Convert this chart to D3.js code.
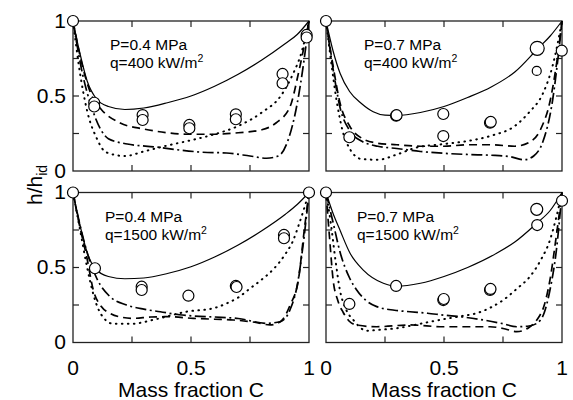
<!DOCTYPE html>
<html><head><meta charset="utf-8">
<script src="https://cdn.jsdelivr.net/npm/d3@7/dist/d3.min.js"></script>
<style>
html,body{margin:0;padding:0;background:#fff;}
svg{display:block;font-family:"Liberation Sans",Arial,Helvetica,sans-serif;}
</style></head>
<body>
<svg id="chart" width="573" height="400"></svg>
<script>
// ---- data ----
const xTicks = [0, 0.25, 0.5, 0.75, 1];
const yTicks = [0, 0.25, 0.5, 0.75, 1];
const xTickLabels = ["0", "0.5", "1"];
const yTickLabels = ["0", "0.5", "1"];
const panelP = ["0.4", "0.7", "0.4", "0.7"];
const panelQ = ["400", "400", "1500", "1500"];

// Panel 1: P=0.4 MPa, q=400
const p1Solid = [[0,1],[0.03,0.78],[0.06,0.6],[0.1,0.48],[0.15,0.43],[0.22,0.41],[0.3,0.42],[0.4,0.455],[0.5,0.5],[0.6,0.565],[0.7,0.645],[0.8,0.74],[0.9,0.85],[0.95,0.91],[1,1]];
const p1Dashed = [[0,1],[0.04,0.7],[0.08,0.5],[0.12,0.41],[0.2,0.32],[0.3,0.28],[0.4,0.255],[0.5,0.245],[0.6,0.245],[0.7,0.255],[0.8,0.275],[0.86,0.32],[0.92,0.43],[0.955,0.65],[1,1]];
const p1Dotted = [[0,1],[0.03,0.65],[0.06,0.4],[0.1,0.22],[0.14,0.125],[0.22,0.1],[0.3,0.13],[0.4,0.17],[0.5,0.205],[0.6,0.245],[0.7,0.3],[0.8,0.39],[0.88,0.5],[0.93,0.64],[0.97,0.8],[1,1]];
const p1DashDot = [[0,1],[0.04,0.65],[0.08,0.42],[0.12,0.27],[0.15,0.215],[0.23,0.18],[0.35,0.16],[0.45,0.14],[0.55,0.125],[0.65,0.12],[0.75,0.1],[0.82,0.085],[0.87,0.1],[0.91,0.2],[0.95,0.45],[0.98,0.75],[1,1]];
const p1Circles = [[0,1,5.5],[0.09,0.455,5.5],[0.09,0.43,5.5],[0.295,0.373,5.5],[0.295,0.34,5.5],[0.493,0.307,5.5],[0.493,0.285,5.5],[0.69,0.378,5.5],[0.69,0.345,5.5],[0.888,0.647,5.5],[0.888,0.585,5.5],[0.99,0.907,5.5],[0.99,0.89,5.5]];

// Panel 2: P=0.7 MPa, q=400
const p2Solid = [[0,1],[0.03,0.8],[0.06,0.65],[0.1,0.53],[0.15,0.45],[0.2,0.395],[0.25,0.372],[0.3,0.37],[0.4,0.39],[0.5,0.43],[0.6,0.49],[0.7,0.56],[0.8,0.66],[0.9,0.82],[0.95,0.9],[1,1]];
const p2Dashed = [[0,1],[0.03,0.7],[0.06,0.45],[0.1,0.3],[0.15,0.22],[0.22,0.185],[0.3,0.175],[0.4,0.165],[0.5,0.165],[0.6,0.175],[0.7,0.175],[0.8,0.165],[0.86,0.19],[0.91,0.28],[0.95,0.47],[0.98,0.75],[1,1]];
const p2Dotted = [[0,1],[0.02,0.75],[0.045,0.47],[0.07,0.27],[0.1,0.15],[0.15,0.08],[0.22,0.075],[0.3,0.11],[0.38,0.155],[0.5,0.18],[0.6,0.2],[0.7,0.235],[0.8,0.3],[0.86,0.39],[0.92,0.52],[0.96,0.7],[1,1]];
const p2DashDot = [[0,1],[0.03,0.68],[0.06,0.42],[0.1,0.27],[0.15,0.2],[0.22,0.165],[0.3,0.15],[0.4,0.13],[0.5,0.118],[0.6,0.11],[0.7,0.105],[0.78,0.095],[0.84,0.075],[0.88,0.1],[0.92,0.2],[0.96,0.47],[0.985,0.78],[1,1]];
const p2Circles = [[0,1,5.5],[0.099,0.225,5.5],[0.297,0.369,5.5],[0.299,0.372,5.5],[0.497,0.38,5.5],[0.497,0.233,5.5],[0.695,0.322,5.5],[0.698,0.327,5.5],[0.895,0.818,7],[0.893,0.667,4.5],[0.999,0.802,5.5]];

// Panel 3: P=0.4 MPa, q=1500
const p3Solid = [[0,1],[0.03,0.78],[0.06,0.6],[0.093,0.495],[0.15,0.44],[0.22,0.425],[0.3,0.43],[0.4,0.46],[0.5,0.505],[0.6,0.57],[0.7,0.65],[0.8,0.745],[0.9,0.855],[0.95,0.92],[1,1]];
const p3Dashed = [[0,1],[0.025,0.8],[0.058,0.572],[0.086,0.35],[0.12,0.24],[0.157,0.195],[0.2,0.17],[0.255,0.161],[0.33,0.17],[0.4,0.172],[0.51,0.161],[0.6,0.155],[0.68,0.15],[0.77,0.135],[0.835,0.117],[0.88,0.14],[0.92,0.25],[0.955,0.417],[0.98,0.75],[1,1]];
const p3Dotted = [[0,1],[0.03,0.75],[0.06,0.5],[0.09,0.3],[0.12,0.185],[0.17,0.125],[0.25,0.125],[0.35,0.155],[0.48,0.205],[0.6,0.23],[0.65,0.26],[0.7,0.3],[0.75,0.36],[0.8,0.42],[0.85,0.49],[0.9,0.59],[0.93,0.67],[0.96,0.8],[1,1]];
const p3DashDot = [[0,1],[0.03,0.78],[0.06,0.6],[0.1,0.43],[0.157,0.305],[0.227,0.25],[0.3,0.222],[0.37,0.205],[0.45,0.185],[0.51,0.177],[0.6,0.17],[0.7,0.16],[0.82,0.128],[0.88,0.14],[0.92,0.22],[0.95,0.38],[0.975,0.65],[1,1]];
const p3Circles = [[0,1,5.5],[0.093,0.495,5.5],[0.291,0.372,5.5],[0.291,0.35,5.5],[0.489,0.312,5.5],[0.69,0.377,5.5],[0.693,0.37,5.5],[0.894,0.717,5.5],[0.894,0.695,5.5],[1,1,5.5]];

// Panel 4: P=0.7 MPa, q=1500
const p4Solid = [[0,1],[0.03,0.86],[0.059,0.75],[0.102,0.595],[0.158,0.483],[0.243,0.395],[0.3,0.375],[0.4,0.395],[0.5,0.44],[0.6,0.5],[0.723,0.595],[0.8,0.67],[0.893,0.795],[0.95,0.88],[1,1]];
const p4Dashed = [[0,1],[0.015,0.7],[0.03,0.42],[0.05,0.28],[0.073,0.2],[0.1,0.14],[0.13,0.117],[0.215,0.105],[0.356,0.117],[0.497,0.105],[0.6,0.105],[0.695,0.105],[0.76,0.09],[0.808,0.072],[0.86,0.1],[0.893,0.15],[0.925,0.25],[0.949,0.417],[0.975,0.7],[1,1]];
const p4Dotted = [[0,1],[0.02,0.8],[0.04,0.55],[0.059,0.35],[0.085,0.22],[0.116,0.15],[0.172,0.079],[0.23,0.085],[0.3,0.095],[0.4,0.125],[0.497,0.155],[0.57,0.175],[0.638,0.195],[0.7,0.235],[0.751,0.283],[0.81,0.36],[0.864,0.439],[0.91,0.55],[0.949,0.683],[0.975,0.83],[1,1]];
const p4DashDot = [[0,1],[0.03,0.8],[0.06,0.6],[0.1,0.43],[0.13,0.35],[0.17,0.28],[0.215,0.239],[0.29,0.215],[0.356,0.205],[0.43,0.195],[0.497,0.183],[0.58,0.17],[0.667,0.15],[0.75,0.125],[0.808,0.105],[0.86,0.11],[0.893,0.128],[0.925,0.2],[0.949,0.35],[0.975,0.6],[1,1]];
const p4Circles = [[0,1,5.5],[0.099,0.257,5.5],[0.297,0.377,5.5],[0.497,0.283,5.5],[0.499,0.29,5.5],[0.695,0.35,5.5],[0.697,0.357,5.5],[0.893,0.888,6],[0.895,0.783,5.5],[1,0.945,5.5]];

const panelsData = [
  {solid:p1Solid, dashed:p1Dashed, dotted:p1Dotted, dashdot:p1DashDot, circles:p1Circles},
  {solid:p2Solid, dashed:p2Dashed, dotted:p2Dotted, dashdot:p2DashDot, circles:p2Circles},
  {solid:p3Solid, dashed:p3Dashed, dotted:p3Dotted, dashdot:p3DashDot, circles:p3Circles},
  {solid:p4Solid, dashed:p4Dashed, dotted:p4Dotted, dashdot:p4DashDot, circles:p4Circles}
];

// ---- layout ----
const svg = d3.select("#chart");
const colX = [73, 326], panelW = 236;
const rowY = [21, 192.5], panelH = 150;
const styles = {
  solid:   {w:1.2, dash:null, cap:"butt"},
  dashed:  {w:1.7, dash:"8,5", cap:"butt"},
  dotted:  {w:2.0, dash:"0.6,5.4", cap:"round"},
  dashdot: {w:1.7, dash:"11,3.5,2,3.5", cap:"butt"}
};

panelsData.forEach((pd, i) => {
  const col = i % 2, row = Math.floor(i / 2);
  const x0 = colX[col], y0 = rowY[row];
  const x = d3.scaleLinear().domain([0,1]).range([x0, x0 + panelW]);
  const y = d3.scaleLinear().domain([0,1]).range([y0 + panelH, y0]);
  const g = svg.append("g");

  // ticks (inward on all four sides)
  const tl = 6;
  xTicks.filter(t => t > 0 && t < 1).forEach(t => {
    g.append("line").attr("x1", x(t)).attr("x2", x(t)).attr("y1", y(0)).attr("y2", y(0) - tl);
    g.append("line").attr("x1", x(t)).attr("x2", x(t)).attr("y1", y(1)).attr("y2", y(1) + tl);
  });
  yTicks.filter(t => t > 0 && t < 1).forEach(t => {
    g.append("line").attr("x1", x(0)).attr("x2", x(0) + tl).attr("y1", y(t)).attr("y2", y(t));
    g.append("line").attr("x1", x(1)).attr("x2", x(1) - tl).attr("y1", y(t)).attr("y2", y(t));
  });
  g.selectAll("line").attr("stroke", "#222").attr("stroke-width", 1.2);
  g.append("rect").attr("x", x(0)).attr("y", y(1)).attr("width", panelW).attr("height", panelH)
    .attr("fill", "none").attr("stroke", "#222").attr("stroke-width", 1.3);

  // tick labels
  if (col === 0) {
    [0, 0.5, 1].forEach((t, k) => {
      g.append("text").attr("x", x(0) - 7).attr("y", y(t) - 1)
        .attr("text-anchor", "end").attr("dominant-baseline", "central")
        .attr("font-size", 21).text(yTickLabels[k]);
    });
  }
  if (row === 1) {
    [0, 0.5, 1].forEach((t, k) => {
      g.append("text").attr("x", x(t)).attr("y", y(0) + 32)
        .attr("text-anchor", "middle").attr("font-size", 21).text(xTickLabels[k]);
    });
    g.append("text").attr("x", x(0.5)).attr("y", y(0) + 54)
      .attr("text-anchor", "middle").attr("font-size", 21).text("Mass fraction C");
  }

  // curves
  const line = d3.line().x(d => x(d[0])).y(d => y(d[1])).curve(d3.curveMonotoneX);
  ["solid", "dashed", "dotted", "dashdot"].forEach(k => {
    const p = g.append("path").attr("d", line(pd[k])).attr("fill", "none")
      .attr("stroke", "#000").attr("stroke-width", styles[k].w)
      .attr("stroke-linecap", styles[k].cap);
    if (styles[k].dash) p.attr("stroke-dasharray", styles[k].dash);
  });

  // circles
  g.selectAll("circle.m").data(pd.circles).enter().append("circle")
    .attr("cx", d => x(d[0])).attr("cy", d => y(d[1])).attr("r", d => d[2])
    .attr("fill", "#fff").attr("stroke", "#000").attr("stroke-width", 1.2);

  // annotation (two lines)
  const ax = x0 + (col === 0 ? (row === 0 ? 37 : 32) : (row === 0 ? 38 : 31));
  g.append("text").attr("x", ax).attr("y", y0 + 29).attr("font-size", 15.5)
    .text("P=" + panelP[i] + " MPa");
  const ann = g.append("text").attr("x", ax).attr("y", y0 + 47).attr("font-size", 15.5);
  ann.append("tspan").text("q=" + panelQ[i] + " kW/m");
  ann.append("tspan").attr("dy", -6).attr("font-size", 10.5).text("2");
});

// y axis label
const yl = svg.append("text").attr("transform", "translate(42,185) rotate(-90)")
  .attr("text-anchor", "middle").attr("font-size", 21);
yl.append("tspan").text("h/h");
yl.append("tspan").attr("font-size", 14).attr("dy", 5).text("id");
</script>
</body></html>
